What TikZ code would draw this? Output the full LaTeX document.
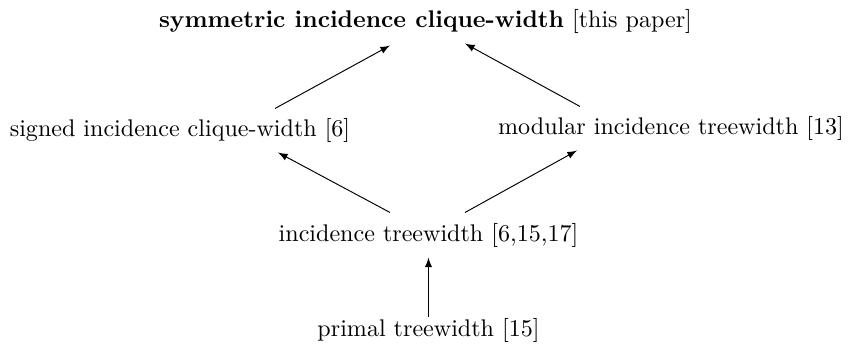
\documentclass[tikz,border=0pt]{standalone}
\usetikzlibrary{calc}
\begin{document}
\begin{tikzpicture}[x=0.4156pt,y=-0.4156pt,
  lbl/.style={inner sep=3.33pt},
  arr/.style={-latex, line width=0.4pt}]
\useasboundingbox (0,0) rectangle (852,350);
\node[lbl] (top) at (425.5,21) {\textbf{symmetric incidence clique-width} [this paper]};
\node[lbl] (signed) at (180,130) {signed incidence clique-width [6]};
\node[lbl] (modular) at (671,128) {modular incidence treewidth [13]};
\node[lbl] (incidence) at (428.5,235) {incidence treewidth [6,15,17]};
\node[lbl] (primal) at (428.5,330) {primal treewidth [15]};
\draw[arr] ($(signed.north)+(95,-1)$) -- ($(top.south)+(-35.5,4)$);
\draw[arr] ($(modular.north)+(-91,-1)$) -- ($(top.south)+(39.5,2)$);
\draw[arr] ($(incidence.north)+(-38.5,-2)$) -- ($(signed.south)+(98,2)$);
\draw[arr] ($(incidence.north)+(36.5,-2)$) -- ($(modular.south)+(-94,2)$);
\draw[arr] ($(primal.north)+(0,8)$) -- ($(incidence.south)+(0,2)$);
\end{tikzpicture}
\end{document}
